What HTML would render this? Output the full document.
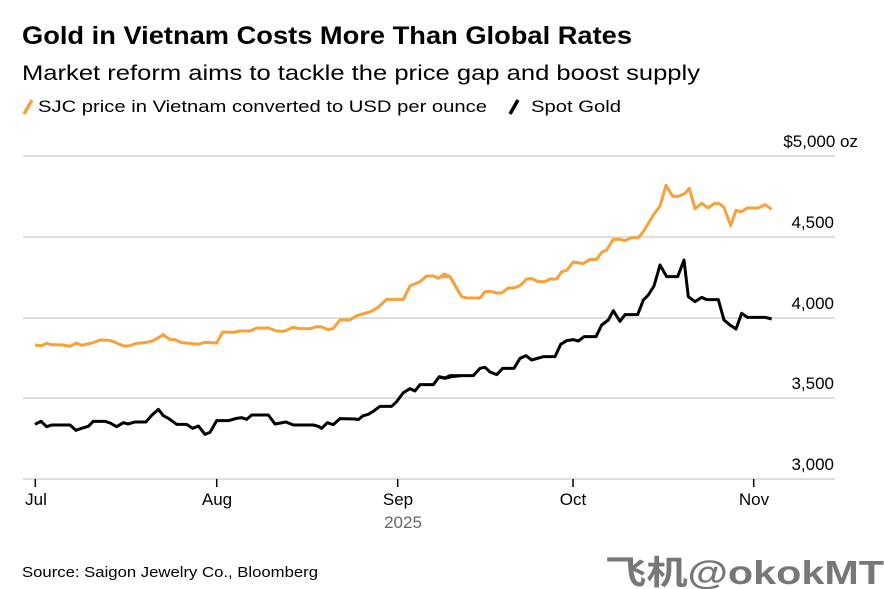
<!DOCTYPE html>
<html><head><meta charset="utf-8"><style>
html,body{margin:0;padding:0;background:#fff;}
svg{display:block;font-family:"Liberation Sans","Noto Sans CJK SC",sans-serif;}
</style></head><body>
<svg width="884" height="589" viewBox="0 0 884 589" xmlns="http://www.w3.org/2000/svg">
<text x="22" y="44" font-size="25" font-weight="bold" fill="#000" textLength="610" lengthAdjust="spacingAndGlyphs">Gold in Vietnam Costs More Than Global Rates</text>
<text x="22" y="80" font-size="21" fill="#000" textLength="678" lengthAdjust="spacingAndGlyphs">Market reform aims to tackle the price gap and boost supply</text>
<line x1="24" y1="114" x2="32" y2="100" stroke="#f8a03a" stroke-width="3.5"/>
<text x="38" y="112" font-size="17" fill="#000" textLength="449" lengthAdjust="spacingAndGlyphs">SJC price in Vietnam converted to USD per ounce</text>
<line x1="510" y1="114" x2="518" y2="100" stroke="#000" stroke-width="3.5"/>
<text x="531" y="112" font-size="17" fill="#000" textLength="90" lengthAdjust="spacingAndGlyphs">Spot Gold</text>
<g stroke="#d4d4d4" stroke-width="1.5">
<line x1="23" y1="156" x2="835" y2="156"/>
<line x1="23" y1="237" x2="835" y2="237"/>
<line x1="23" y1="318" x2="835" y2="318"/>
<line x1="23" y1="398" x2="835" y2="398"/>
<line x1="23" y1="479" x2="835" y2="479"/>
</g>
<g font-size="17" fill="#000" text-anchor="end">
<text x="858" y="147">$5,000 oz</text>
<text x="834" y="228">4,500</text>
<text x="834" y="309">4,000</text>
<text x="834" y="389">3,500</text>
<text x="834" y="470">3,000</text>
</g>
<g stroke="#000" stroke-width="1.5">
<line x1="35.3" y1="479" x2="35.3" y2="487"/>
<line x1="216.7" y1="479" x2="216.7" y2="487"/>
<line x1="397.7" y1="479" x2="397.7" y2="487"/>
<line x1="573" y1="479" x2="573" y2="487"/>
<line x1="753.7" y1="479" x2="753.7" y2="487"/>
</g>
<g font-size="17" fill="#000" text-anchor="middle">
<text x="36" y="505">Jul</text>
<text x="217" y="505">Aug</text>
<text x="398" y="505">Sep</text>
<text x="573" y="505">Oct</text>
<text x="754" y="505">Nov</text>
</g>
<text x="403" y="528" font-size="17" fill="#666" text-anchor="middle">2025</text>
<text x="22" y="577" font-size="15" fill="#000" textLength="296" lengthAdjust="spacingAndGlyphs">Source: Saigon Jewelry Co., Bloomberg</text>
<text x="605" y="584" font-size="33" font-weight="bold" fill="#777" textLength="279" lengthAdjust="spacingAndGlyphs">飞机@okokMT</text>
<g transform="translate(20,130) scale(0.33333)" fill="none" stroke-linejoin="round">
<polyline vector-effect="non-scaling-stroke" stroke="#f8a03a" stroke-width="3" points="45,645 65,647 80,640 95,644 130,645 150,649 170,639 185,646 220,638 240,630 270,631 290,639 310,648 325,648 350,640 380,637 400,632 430,614 450,629 465,629 485,638 510,640 535,643 555,637 590,639 608,606 640,607 660,603 690,603 710,594 745,594 770,603 790,604 800,601 818,592 840,596 870,596 890,590 905,591 925,599 940,595 960,570 990,570 1010,557 1030,551 1050,546 1070,535 1085,522 1100,508 1150,508 1170,468 1200,455 1220,438 1240,438 1255,445 1273,432 1290,440 1320,492"/>
<polyline vector-effect="non-scaling-stroke" stroke="#000" stroke-width="3" points="45,883 63,874 80,890 95,885 150,885 168,901 185,895 205,889 220,874 255,874 270,879 290,890 310,878 325,882 345,876 378,876 395,856 415,838 430,857 445,865 470,883 500,883 518,895 535,888 555,913 570,907 590,872 625,872 650,865 665,863 680,868 695,855 745,855 765,882 798,876 820,885 880,885 895,889 905,895 922,878 940,884 960,866 1005,867 1015,869 1028,858 1045,853 1060,844 1080,829 1115,829 1130,815 1150,788 1170,776 1185,783 1200,764 1240,764 1258,740 1275,744 1290,737 1320,737"/>
</g>
<g transform="translate(440,130) scale(0.33333)" fill="none" stroke-linejoin="round">
<polyline vector-effect="non-scaling-stroke" stroke="#f8a03a" stroke-width="3" points="0,440 30,440 65,500 80,504 120,504 135,485 150,484 170,489 185,489 205,474 225,473 240,467 260,447 275,446 295,455 315,455 330,447 350,447 365,425 380,421 400,396 430,401 450,388 470,388 485,367 500,360 520,328 540,328 555,332 575,323 595,323 610,305 640,255 660,228 678,166 698,199 715,199 735,190 748,175 765,236 785,220 805,234 822,221 838,221 852,232 872,287 888,241 905,245 922,234 955,234 975,224 995,238"/>
<polyline vector-effect="non-scaling-stroke" stroke="#000" stroke-width="3" points="0,742 15,745 35,740 65,737 100,737 120,715 135,712 150,726 170,734 188,715 222,715 240,685 258,677 275,690 310,680 345,680 362,643 380,632 400,629 415,633 432,620 468,620 485,585 505,570 520,542 540,574 555,554 593,554 610,510 625,495 642,468 660,405 680,440 713,440 732,390 745,500 765,515 785,502 800,509 835,509 852,570 870,585 888,597 905,550 922,562 975,562 995,567"/>
</g>
</svg>
</body></html>
